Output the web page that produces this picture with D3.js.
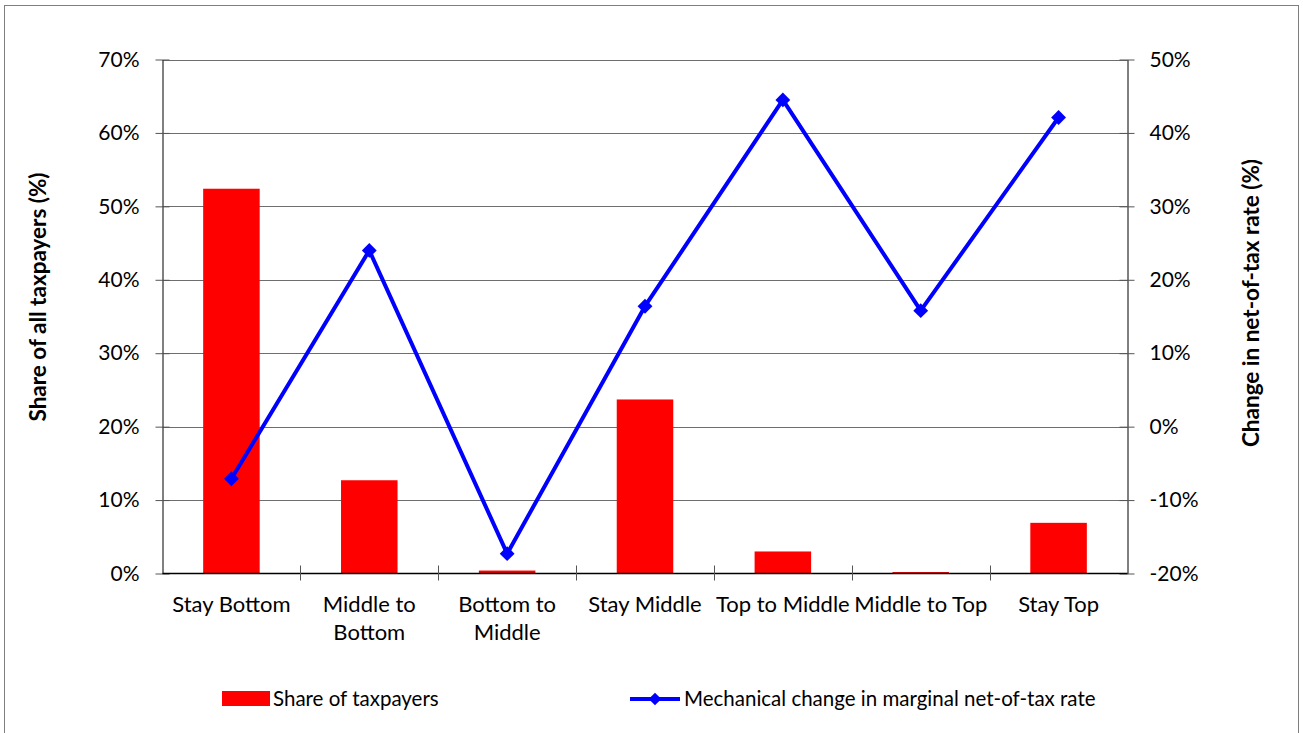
<!DOCTYPE html>
<html><head><meta charset="utf-8">
<script src="https://cdn.jsdelivr.net/npm/d3@7"></script>
<style>
body{margin:0;background:#fff;}
svg{display:block;font-family:Lato,"Open Sans",sans-serif;}
</style></head><body>
<svg id="c" width="1303" height="733"></svg>
<script>
const categories = [["Stay Bottom"],["Middle to","Bottom"],["Bottom to","Middle"],["Stay Middle"],["Top to Middle"],["Middle to Top"],["Stay Top"]];
const shareValues = [52.4, 12.7, 0.4, 23.7, 3.0, 0.2, 6.9];
const changeValues = [-7.1, 24.0, -17.3, 16.4, 44.5, 15.8, 42.1];
const leftTicks = [0,10,20,30,40,50,60,70];
const rightTicks = [-20,-10,0,10,20,30,40,50];
const names = categories.map(c=>c.join(" "));

const svg = d3.select("#c");
const L=162.5, R=1127.5, T=59.5, B=573.5;

svg.append("rect").attr("x",4.5).attr("y",5.5).attr("width",1294).attr("height",740)
  .attr("fill","none").attr("stroke","#7f7f7f").attr("stroke-width",1);

const x = d3.scaleBand().domain(names).range([L,R]).paddingInner(0.59).paddingOuter(0.295);
const yL = d3.scaleLinear().domain([0,70]).range([B,T]);
const yR = d3.scaleLinear().domain([-20,50]).range([B,T]);

// gridlines
svg.append("g").selectAll("line").data(leftTicks.filter(d=>d>0)).join("line")
  .attr("x1",L).attr("x2",R).attr("y1",d=>Math.round(yL(d))+0.5).attr("y2",d=>Math.round(yL(d))+0.5)
  .attr("stroke","#6e6e6e").attr("stroke-width",1);

// bars
svg.append("g").selectAll("rect").data(shareValues).join("rect")
  .attr("x",(d,i)=>x(names[i])).attr("width",x.bandwidth())
  .attr("y",d=>yL(d)).attr("height",d=>B-yL(d)).attr("fill","#ff0000");

// axes
const fs = 21;
const gl = svg.append("g").attr("transform",`translate(${L},0)`)
  .call(d3.axisLeft(yL).tickValues(leftTicks).tickFormat(d=>d+"%").tickSizeInner(7).tickSizeOuter(0).tickPadding(16));
gl.selectAll(".tick line").attr("x2",7);
const gr = svg.append("g").attr("transform",`translate(${R},0)`)
  .call(d3.axisRight(yR).tickValues(rightTicks).tickFormat(d=>d+"%").tickSizeInner(7).tickSizeOuter(0).tickPadding(15));
gr.selectAll(".tick line").attr("x2",7).attr("x1",-8);
[gl,gr].forEach(g=>{
  g.selectAll("text").attr("font-size",fs).attr("fill","#000").attr("font-family","Lato,'Open Sans',sans-serif");
  g.select(".domain").attr("stroke","#000");
  g.selectAll(".tick line").attr("stroke","#555");
});
gl.selectAll(".tick line").attr("x1",-7);

// x axis
const gx = svg.append("g");
gx.append("line").attr("x1",L).attr("x2",R).attr("y1",B).attr("y2",B).attr("stroke","#000").attr("stroke-width",1.5);
const step = x.step();
const bounds = d3.range(1,names.length).map(i=>L+step*i);
gx.selectAll("line.t").data(bounds).join("line").attr("class","t")
  .attr("x1",d=>Math.round(d)+0.5).attr("x2",d=>Math.round(d)+0.5).attr("y1",B-8).attr("y2",B+7).attr("stroke","#555");
categories.forEach((c,i)=>{
  const cx = x(names[i])+x.bandwidth()/2;
  const t = gx.append("text").attr("x",cx).attr("y",612).attr("text-anchor","middle")
    .attr("font-size",22).attr("fill","#000");
  c.forEach((line,j)=>t.append("tspan").attr("x",cx).attr("dy",j===0?0:28).text(line));
});

// line
const px = i=>x(names[i])+x.bandwidth()/2;
svg.append("path").datum(changeValues)
  .attr("d",d3.line().x((d,i)=>px(i)).y(d=>yR(d)))
  .attr("fill","none").attr("stroke","#0000ff").attr("stroke-width",4).attr("stroke-linejoin","round");
const diamond = d3.symbol().type(d3.symbolSquare).size(110);
svg.append("g").selectAll("path").data(changeValues).join("path")
  .attr("d",diamond).attr("fill","#0000ff")
  .attr("transform",(d,i)=>`translate(${px(i)},${yR(d)}) rotate(45)`);

// axis titles
svg.append("text").attr("transform","translate(46,297) rotate(-90)").attr("text-anchor","middle")
  .attr("font-size",22.5).attr("font-weight","bold").text("Share of all taxpayers (%)");
svg.append("text").attr("transform","translate(1259,303) rotate(-90)").attr("text-anchor","middle")
  .attr("font-size",22.5).attr("font-weight","bold").text("Change in net-of-tax rate (%)");

// legend
const lg = svg.append("g");
lg.append("rect").attr("x",222).attr("y",691).attr("width",48).attr("height",15).attr("fill","#ff0000");
lg.append("text").attr("x",273).attr("y",706).attr("font-size",20.5).text("Share of taxpayers");
lg.append("line").attr("x1",630).attr("x2",680).attr("y1",699).attr("y2",699).attr("stroke","#0000ff").attr("stroke-width",4);
lg.append("path").attr("d",d3.symbol().type(d3.symbolSquare).size(80)).attr("fill","#0000ff")
  .attr("transform","translate(655,699) rotate(45)");
lg.append("text").attr("x",684).attr("y",706).attr("font-size",20.5).text("Mechanical change in marginal net-of-tax rate");
</script></body></html>
